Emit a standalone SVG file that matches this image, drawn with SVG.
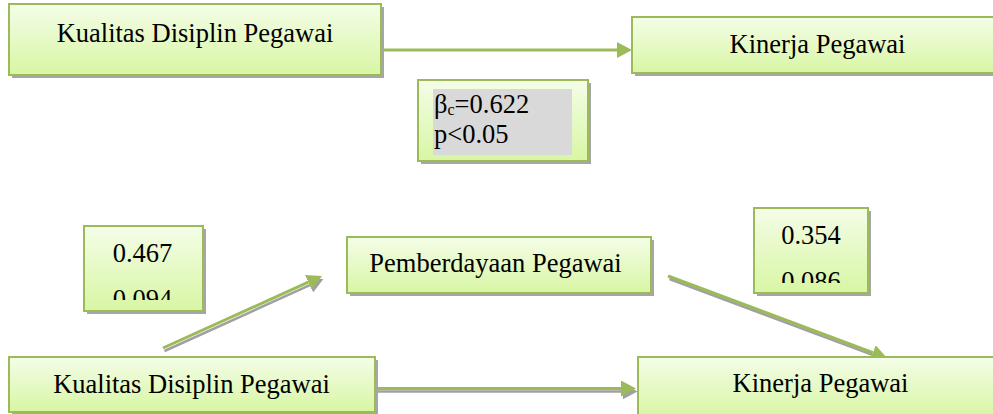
<svg xmlns="http://www.w3.org/2000/svg" width="993" height="414" viewBox="0 0 993 414">
<defs>
<linearGradient id="fill" x1="0" y1="0" x2="0" y2="1">
<stop offset="0" stop-color="#f4fde8"/>
<stop offset="1" stop-color="#d8f6a3"/>
</linearGradient>
<clipPath id="clipA"><rect x="84" y="226" width="119" height="74"/></clipPath>
<clipPath id="clipB"><rect x="754" y="208" width="114" height="75"/></clipPath>
<marker id="headG" markerUnits="userSpaceOnUse" markerWidth="16" markerHeight="16" refX="0" refY="8" orient="auto" viewBox="0 0 16 16">
<path d="M0,0 L15,8 L0,16 z" fill="#9bbb59"/>
</marker>
<marker id="headS" markerUnits="userSpaceOnUse" markerWidth="16" markerHeight="16" refX="0" refY="8" orient="auto" viewBox="0 0 16 16">
<path d="M0,0 L15,8 L0,16 z" fill="#a0a0a0"/>
</marker>
</defs>
<style>
.box{fill:url(#fill);stroke:#9bbb59;stroke-width:2}
.shadow{fill:#a6a6a6}
.t{font-family:"Liberation Serif","Times New Roman",serif;font-size:26.5px;fill:#000}
.mid{text-anchor:middle}
.lg{fill:none;stroke:#9bbb59;stroke-width:3;marker-end:url(#headG)}
.ls{fill:none;stroke:#a0a0a0;stroke-width:2.5;marker-end:url(#headS)}
</style>
<rect width="993" height="414" fill="#fff"/>

<g id="connectors">
<line class="lg" x1="382" y1="50" x2="617" y2="50"/>
<g transform="translate(1.5,3)">
<line class="ls" x1="163" y1="348" x2="308.3" y2="282.2"/>
<line class="ls" x1="668" y1="276" x2="872.9" y2="352.7"/>
<line class="ls" x1="376" y1="388.5" x2="621" y2="388.5"/>
</g>
<line class="lg" x1="163" y1="348" x2="308.3" y2="282.2"/>
<line class="lg" x1="668" y1="276" x2="872.9" y2="352.7"/>
<line class="lg" x1="376" y1="388.5" x2="621" y2="388.5"/>
</g>

<g id="kualitas-top">
<rect class="shadow" x="12" y="7" width="372" height="71"/>
<rect class="box" x="9" y="4" width="372" height="71"/>
<text class="t mid" x="195" y="42">Kualitas Disiplin Pegawai</text>
</g>

<g id="kinerja-top">
<rect class="shadow" x="635" y="20" width="370" height="56"/>
<rect class="box" x="632" y="17" width="370" height="56"/>
<text class="t mid" x="817.5" y="53">Kinerja Pegawai</text>
</g>

<g id="beta-label">
<rect class="shadow" x="421" y="83" width="170" height="81"/>
<rect class="box" x="418" y="80" width="170" height="81"/>
<rect x="433" y="89" width="139" height="66" fill="#d9d9d9"/>
<text class="t" x="434" y="113">β<tspan font-size="16" dy="2">c</tspan><tspan dy="-2">=0.622</tspan></text>
<text class="t" x="434" y="143">p&lt;0.05</text>
</g>

<g id="label-a">
<rect class="shadow" x="87" y="229" width="119" height="85"/>
<rect class="box" x="84" y="226" width="119" height="85"/>
<text class="t mid" x="142.5" y="262">0.467</text>
<text class="t mid" x="142.5" y="308" clip-path="url(#clipA)">0.094</text>
</g>

<g id="pemberdayaan">
<rect class="shadow" x="350" y="240" width="304" height="56"/>
<rect class="box" x="347" y="237" width="304" height="56"/>
<text class="t mid" x="495.5" y="272">Pemberdayaan Pegawai</text>
</g>

<g id="label-b">
<rect class="shadow" x="757" y="211" width="114" height="85"/>
<rect class="box" x="754" y="208" width="114" height="85"/>
<text class="t mid" x="811" y="244">0.354</text>
<text class="t mid" x="811" y="290" clip-path="url(#clipB)">0.086</text>
</g>

<g id="kualitas-bottom">
<rect class="shadow" x="12" y="360" width="366" height="55"/>
<rect class="box" x="9" y="357" width="366" height="55"/>
<text class="t mid" x="191.5" y="393">Kualitas Disiplin Pegawai</text>
</g>

<g id="kinerja-bottom">
<rect class="shadow" x="641" y="360" width="370" height="60"/>
<rect class="box" x="638" y="357" width="370" height="60"/>
<text class="t mid" x="820.5" y="392">Kinerja Pegawai</text>
</g>
</svg>
